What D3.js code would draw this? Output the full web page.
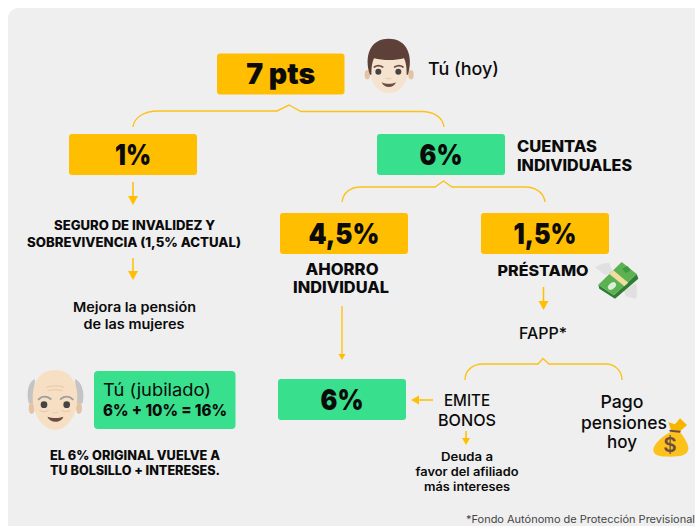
<!DOCTYPE html>
<html lang="es">
<head>
<meta charset="UTF-8">
<title>7 pts</title>
<script src="https://d3js.org/d3.v7.min.js"></script>
<style>
    html, body { margin: 0; padding: 0; background: #fff; }
    svg { display: block; }
    text { font-family: Inter, "Open Sans", sans-serif; fill: #0b0b0b; }
</style>
</head>
<body>
<div id="chart"></div>
<script>
    // contenido
    const boxLabels = ["7 pts", "1%", "6%", "4,5%", "1,5%", "6%"];
    const boxKinds = ["amarillo", "amarillo", "verde", "amarillo", "amarillo", "verde"];
    const jubiladoLines = ["Tú (jubilado)", "6% + 10% = 16%"];
    const boldLines = ["CUENTAS", "INDIVIDUALES", "SEGURO DE INVALIDEZ Y", "SOBREVIVENCIA (1,5% ACTUAL)",
        "AHORRO", "INDIVIDUAL", "PRÉSTAMO", "EL 6% ORIGINAL VUELVE A", "TU BOLSILLO + INTERESES."];
    const mediumLines = ["Mejora la pensión", "de las mujeres", "Deuda a", "favor del afiliado", "más intereses"];
    const plainLines = ["Tú (hoy)", "FAPP*", "EMITE", "BONOS", "Pago", "pensiones", "hoy"];
    const footnote = "*Fondo Autónomo de Protección Previsional";

    const colors = {amarillo: "#ffbf00", verde: "#38df8c"};
    const W = 695, H = 526;

    // geometria: [x, y, ancho, alto]
    const boxGeom = [[217, 53.5, 127.5, 41], [69, 134, 128, 41], [377, 134, 128, 41],
        [280, 213, 128, 41], [481, 213, 128, 41], [278, 379, 128, 41]];
    const boxTextLen = [69, 36, 43, 71, 63, 43];
    // [x, baseline, ancho]; el ancho sale de medir Poppins en la imagen
    const boldGeom = [[517, 151.5, 80, "start"], [517, 171, 115, "start"], [134.5, 230, 161], [134, 247, 214],
        [342, 275, 73], [341, 293, 96], [543, 276, 91], [135, 460, 170], [135, 475, 170]];
    const mediumGeom = [[134.5, 312, 123], [134, 329, 101], [467, 461, 52], [467, 476, 103], [467, 491, 86]];
    const plainGeom = [[428, 75, 71, "start", 17.5], [543, 339, 48, "middle", 15.5], [467, 406, 46, "middle", 16.5],
        [467, 426, 58, "middle", 16.5], [622, 408, 43, "middle", 17.5], [624, 429, 86, "middle", 17.5], [622, 448, 30, "middle", 17.5]];
    const boldSize = [15.5, 15.5, 12.5, 12.5, 15.5, 15.5, 15, 12.5, 12.5];
    const mediumSize = [13, 13, 11.5, 11.5, 11.5];

    const svg = d3.select("#chart").append("svg").attr("width", W).attr("height", H).attr("viewBox", `0 0 ${W} ${H}`);

    svg.append("path").attr("fill", "#efefef")
        .attr("d", "M8 526V18a10 10 0 0 1 10-10H695V526Z");

    // llaves
    const braces = [
        "M133 127C134 117 145 111 158 111H277L289 105L301 111.5H420C433 111 443 117 444 127",
        "M342 202C343 193 350 187 361 187H435L443.5 181L452 187H525C536 187 544 193 545 202",
        "M465 380C465 371 472 364 483 364H538L543 358.5L549 364H606C615 364 622 371 622 380"
    ];
    svg.selectAll("path.llave").data(braces).join("path").attr("class", "llave")
        .attr("d", d => d).attr("fill", "none").attr("stroke", "#fcc21b").attr("stroke-width", 1.4);

    // flechas [x1,y1,x2,y2,grosor,cabeza]
    const arrows = [[133, 182, 133, 205, 1.5, 9], [133, 258, 133, 280, 1.5, 9], [342, 306, 342, 360, 1.3, 6],
        [543.5, 287, 543.5, 310, 1.5, 9], [433, 400, 411, 400, 1.5, 8], [466, 431, 466, 445, 1.5, 7]];
    const arrowG = svg.selectAll("g.flecha").data(arrows).join("g").attr("class", "flecha");
    arrowG.append("line")
        .attr("x1", d => d[0]).attr("y1", d => d[1])
        .attr("x2", d => d[2] - Math.sign(d[2] - d[0]) * d[5] * 0.8)
        .attr("y2", d => d[3] - Math.sign(d[3] - d[1]) * d[5] * 0.8)
        .attr("stroke", "#ffbf00").attr("stroke-width", d => d[4]);
    arrowG.append("path").attr("fill", "#ffbf00")
        .attr("transform", d => `translate(${d[2]},${d[3]}) rotate(${d[2] < d[0] ? 90 : 0})`)
        .attr("d", d => `M0 0L${-d[5] / 2 - 0.5} ${-d[5]}H${d[5] / 2 + 0.5}Z`);

    // cajas
    svg.selectAll("rect.caja").data(boxLabels).join("rect").attr("class", "caja")
        .attr("x", (d, i) => boxGeom[i][0]).attr("y", (d, i) => boxGeom[i][1])
        .attr("width", (d, i) => boxGeom[i][2]).attr("height", (d, i) => boxGeom[i][3])
        .attr("rx", 3).attr("fill", (d, i) => colors[boxKinds[i]]);
    svg.selectAll("text.caja").data(boxLabels).join("text").attr("class", "caja")
        .attr("x", (d, i) => boxGeom[i][0] + boxGeom[i][2] / 2)
        .attr("y", (d, i) => boxGeom[i][1] + boxGeom[i][3] - 10.5)
        .attr("text-anchor", "middle").attr("font-size", 29).attr("font-weight", 900)
        .attr("textLength", (d, i) => boxTextLen[i]).attr("lengthAdjust", "spacingAndGlyphs")
        .text(d => d);

    svg.append("rect").attr("x", 94).attr("y", 371).attr("width", 141.5).attr("height", 58).attr("rx", 4).attr("fill", colors.verde);
    svg.selectAll("text.jub").data(jubiladoLines).join("text").attr("class", "jub")
        .attr("x", 103).attr("y", (d, i) => [396, 416][i])
        .attr("font-size", (d, i) => [17, 16][i]).attr("font-weight", (d, i) => [400, 800][i])
        .attr("textLength", (d, i) => [108, 124][i]).attr("lengthAdjust", "spacingAndGlyphs")
        .text(d => d);

    function writeLines(cls, lines, geom, size, weight) {
        svg.selectAll("text." + cls).data(lines).join("text").attr("class", cls)
            .attr("x", (d, i) => geom[i][0]).attr("y", (d, i) => geom[i][1])
            .attr("text-anchor", (d, i) => geom[i][3] || "middle")
            .attr("font-size", (d, i) => size(i)).attr("font-weight", weight)
            .attr("textLength", (d, i) => geom[i][2]).attr("lengthAdjust", "spacingAndGlyphs")
            .text(d => d);
    }
    writeLines("negrita", boldLines, boldGeom, i => boldSize[i], 800);
    writeLines("media", mediumLines, mediumGeom, i => mediumSize[i], 600);
    writeLines("normal", plainLines, plainGeom, i => plainGeom[i][4], 450);

    svg.append("text").attr("x", 466).attr("y", 523).attr("font-size", 10.5)
        .attr("textLength", 229).attr("lengthAdjust", "spacingAndGlyphs").style("fill", "#444").text(footnote);

    // emojis dibujados a mano, en coordenadas del recorte x3
    function emoji(x, y) { return svg.append("g").attr("transform", `translate(${x},${y}) scale(${1 / 3})`); }
    function shape(g, d, fill) { return g.append("path").attr("d", d).attr("fill", fill); }
    function stroke(g, d, color, w) {
        return g.append("path").attr("d", d).attr("fill", "none").attr("stroke", color)
            .attr("stroke-width", w).attr("stroke-linecap", "round");
    }
    function dot(g, x, y, r) { g.append("circle").attr("cx", x).attr("cy", y).attr("r", r).attr("fill", "#444"); }
    function ears(g, x1, x2, y, rx, ry, fill) {
        [x1, x2].forEach(x => g.append("ellipse").attr("cx", x).attr("cy", y).attr("rx", rx).attr("ry", ry).attr("fill", fill));
    }

    const young = emoji(360, 34);
    ears(young, 22, 153, 122, 8, 14, "#e3c3a3");
    shape(young, "M27 85C27 140 50 178 87 178C124 178 148 140 148 85C148 50 27 50 27 85Z", "#f6e3cf");
    shape(young, "M30 122C12 70 28 14 86 14C144 14 160 70 144 122H140C140 100 138 85 132 73C105 80 70 80 42 73C36 85 34 100 34 122Z", "#5d4037");
    stroke(young, "M43 99C50 94 60 94 68 99", "#6d4c41", 5);
    stroke(young, "M104 99C112 94 122 94 129 99", "#6d4c41", 5);
    dot(young, 55, 113, 9); dot(young, 115, 113, 9);
    shape(young, "M77 130C82 134 90 134 95 130C94 139 78 139 77 130Z", "#e8c9ac");
    shape(young, "M65 145C78 151 95 151 108 145C102 164 71 164 65 145Z", "#6d4c41");

    const old = emoji(20, 364);
    shape(old, "M45 45C25 52 18 85 26 118L40 118Z", "#c4c4c4");
    shape(old, "M165 45C185 52 195 85 188 118L170 118Z", "#c4c4c4");
    ears(old, 35, 177, 132, 9, 18, "#e3c3a3");
    shape(old, "M105 18C150 18 172 55 172 100C172 155 140 198 105 198C70 198 38 155 38 100C38 55 60 18 105 18Z", "#f6dfc3");
    stroke(old, "M56 106C66 96 80 96 92 105", "#9e9e9e", 6);
    stroke(old, "M122 105C134 96 148 96 158 106", "#9e9e9e", 6);
    stroke(old, "M80 70C95 64 117 64 132 70", "#e6c8a6", 3);
    stroke(old, "M85 80C98 76 114 76 127 80", "#e6c8a6", 3);
    stroke(old, "M60 140C68 144 78 144 85 140", "#e6c8a6", 3);
    stroke(old, "M125 140C132 144 142 144 150 140", "#e6c8a6", 3);
    dot(old, 72, 122, 10); dot(old, 140, 122, 10);
    shape(old, "M96 142C100 147 110 147 115 142C114 151 98 151 96 142Z", "#e8c9ac");
    shape(old, "M82 158C95 163 117 163 130 158C124 178 90 178 82 158Z", "#6d4c41");

    const money = emoji(590, 258);
    shape(money, "M15 28C30 18 45 14 58 15L68 45L45 50Z", "#e0e0e0");
    shape(money, "M100 95L138 75C142 90 142 108 138 122L108 115Z", "#e0e0e0");
    shape(money, "M25 80L72 112L140 48L145 62L75 122L28 92Z", "#2e7d32");
    shape(money, "M25 80L95 12L140 48L72 112Z", "#5cb250");
    shape(money, "M58 48L70 37L115 74L103 85Z", "#f3dca0");
    money.append("ellipse").attr("cx", 66).attr("cy", 84).attr("rx", 14).attr("ry", 9)
        .attr("transform", "rotate(-42 66 84)").attr("fill", "#dcefd8");
    shape(money, "M96 32L112 24L122 36L108 46Z", "#3f9a42");

    const bag = emoji(645, 415);
    shape(bag, "M78 44L70 22L90 28L105 10L126 30L104 50Z", "#f7b500");
    shape(bag, "M78 50C55 62 25 85 25 105C25 122 45 125 75 125C105 125 130 122 130 100C130 85 115 62 103 50Z", "#fcc21b");
    stroke(bag, "M76 47L104 50", "#6d4c41", 6);
    bag.append("text").attr("x", 75).attr("y", 111).attr("text-anchor", "middle")
        .attr("font-size", 62).attr("font-weight", 600).style("fill", "#6d4c41").text("$");
</script>
</body>
</html>
